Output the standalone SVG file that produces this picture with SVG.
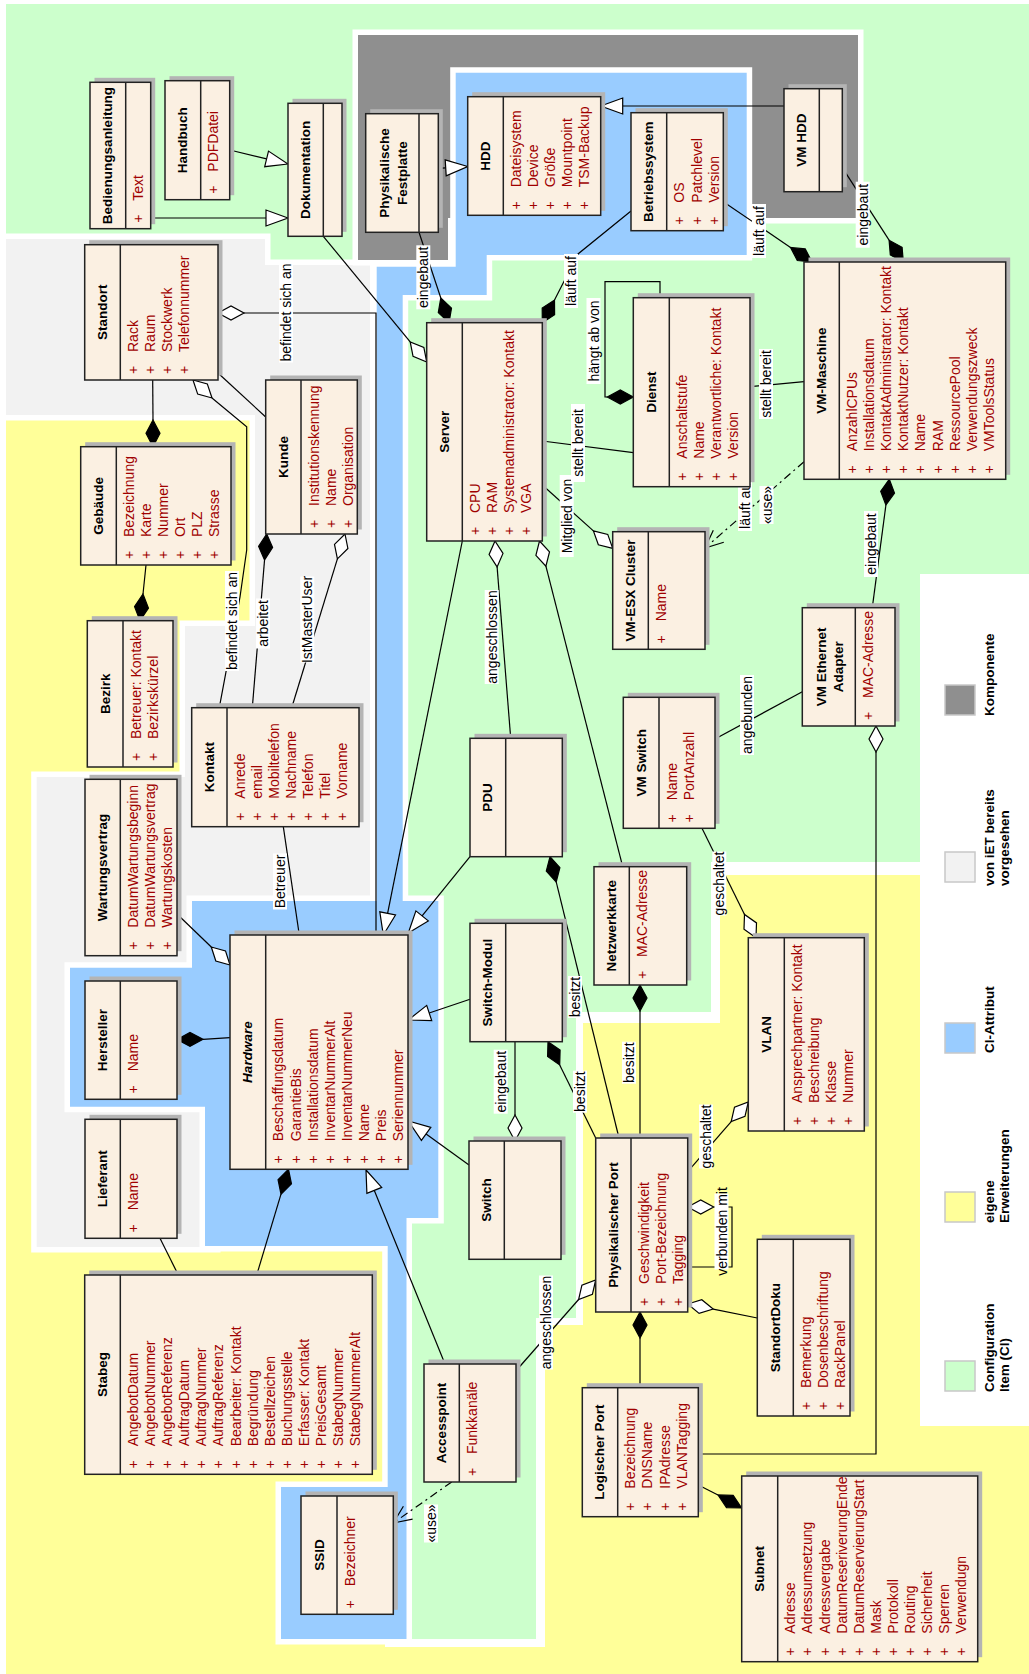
<svg xmlns="http://www.w3.org/2000/svg" width="1029" height="1674" viewBox="0 0 1029 1674">
<defs>
<style>
.ry{fill:#ffff99}
.rg{fill:#ccffcc}
.rl{fill:#f2f2f2;stroke:#fff;stroke-width:11;paint-order:stroke}
.rd{fill:#8f8f8f;stroke:#fff;stroke-width:11;paint-order:stroke}
.rb{fill:#99ccff;stroke:#fff;stroke-width:11;paint-order:stroke}
.sh{fill:#b4b4b4}
.bx{fill:#fbf0e2;stroke:#222;stroke-width:1.5}
.dv{stroke:#222;stroke-width:1.5}
text{font-family:"Liberation Sans",Arial,sans-serif}
.t{font-size:13.5px;font-weight:bold;fill:#000;text-anchor:middle;dominant-baseline:central}
.a{font-size:14px;fill:#a00000}
.p{font-size:14px;fill:#a00000;text-anchor:middle}
.l{fill:none;stroke:#000;stroke-width:1.2}
.u{fill:none;stroke:#000;stroke-width:1.2;stroke-dasharray:8 4 2 4}
.dh{fill:#fff;stroke:#000;stroke-width:1.2}
.df{fill:#000;stroke:#000;stroke-width:1.2}
.tr{fill:#fff;stroke:#000;stroke-width:1.2}
.bg{fill:#fff}
.lb{font-size:14px;fill:#000;text-anchor:middle;dominant-baseline:central}
.lg{font-size:13.5px;font-weight:bold;fill:#000;dominant-baseline:central}
.sq{stroke:#c8c8c8;stroke-width:1.5}
</style>
</defs>
<g id="regions">
<rect x="0" y="0" width="1029" height="1674" fill="#fff"/>
<polygon class="ry" points="6,300 385,300 385,1647 545,1647 545,1325 583,1325 583,1023 720,1023 720,875 1029,875 1029,1674 6,1674"/>
<polygon class="rg" points="6,4 1029,4 1029,862 711,862 711,1012 576,1012 576,1318 536,1318 536,1639 395,1639 395,262 6,262"/>
<polygon class="rl" points="6,239 265,239 265,265 370,265 370,1000 215,1000 215,1247 36.7,1247 36.7,777 185,777 185,626 255,626 255,415 6,415"/>
<polygon class="rd" points="358,35 858,35 858,218 448,218 448,260 358,260"/>
<polygon class="rb" points="455.7,72.7 746.7,72.7 746.7,255 486.7,255 486.7,295 402.7,295 402.7,901 438.3,901 438.3,1218 406.5,1218 406.5,1639 281,1639 281,1487 387.7,1487 387.7,1246 205,1246 205,1106.7 70,1106.7 70,967.7 192,967.7 192,901 376.7,901 376.7,266.7 455.7,266.7"/>
</g>
<g id="legend">
<rect x="920" y="574" width="109" height="852" fill="#fff"/>
<rect class="sq" x="945" y="685" width="30" height="30" fill="#8f8f8f"/>
<text class="lg" transform="translate(989,716) rotate(-90)">Komponente</text>
<rect class="sq" x="945" y="852" width="30" height="30" fill="#f2f2f2"/>
<text class="lg" transform="translate(989,886) rotate(-90)">von iET bereits</text>
<text class="lg" transform="translate(1004,886) rotate(-90)">vorgesehen</text>
<rect class="sq" x="945" y="1023" width="30" height="30" fill="#99ccff"/>
<text class="lg" transform="translate(989,1053) rotate(-90)">CI-Attribut</text>
<rect class="sq" x="945" y="1192" width="30" height="30" fill="#ffff99"/>
<text class="lg" transform="translate(989,1223) rotate(-90)">eigene</text>
<text class="lg" transform="translate(1004,1223) rotate(-90)">Erweiterungen</text>
<rect class="sq" x="945" y="1361" width="30" height="30" fill="#ccffcc"/>
<text class="lg" transform="translate(989,1392) rotate(-90)">Configuration</text>
<text class="lg" transform="translate(1004,1392) rotate(-90)">Item (CI)</text>
</g>
<g id="connectors">
<path class="l" d="M150.7,218 L266,218"/>
<path class="l" d="M229.7,150 L266.6,158.9"/>
<path class="l" d="M323.3,236.3 L410.2,341.9"/>
<path class="l" d="M244,313 L376,313 L376,935"/>
<path class="l" d="M212,398 L246.7,426.7 L246.7,550 L240,597 L219.3,707.7"/>
<path class="l" d="M218,373 L265.7,417"/>
<path class="l" d="M152.7,380 L153,420"/>
<path class="l" d="M146,565 L143,594"/>
<path class="l" d="M264.55,559.9 L252.3,707.7"/>
<path class="l" d="M337.4,558.9 L291.7,707.7"/>
<path class="l" d="M283.3,826.7 L299.3,935"/>
<path class="l" d="M177,914 L211.3,947"/>
<path class="l" d="M203,1039.3 L230,1037.7"/>
<path class="l" d="M160,1238.3 L178.3,1275"/>
<path class="l" d="M281,1194.2 L256.7,1275"/>
<path class="l" d="M462.3,541 L387.6,913.4"/>
<path class="l" d="M497.1,566.9 L510.7,738.3"/>
<path class="l" d="M542.3,485 L593.4,530.9"/>
<path class="l" d="M545.9,566.2 L622.7,866.7"/>
<path class="l" d="M470,856.7 L422.1,915.9"/>
<path class="l" d="M470,999.3 L429.2,1013"/>
<path class="l" d="M469,1165 L426.1,1133.9"/>
<path class="l" d="M445,1364 L374.3,1190.4"/>
<path class="l" d="M515,1041.7 L515,1115"/>
<path class="l" d="M556.2,881.9 L619,1138"/>
<path class="l" d="M559.7,1064.9 L595.7,1138"/>
<path class="l" d="M640,1011 L640,1138"/>
<path class="l" d="M640,1338 L640,1387.7"/>
<path class="l" d="M516.7,1370 L578.6,1299.5"/>
<path class="l" d="M713.7,1207 L732,1207 L732,1267 L687.7,1267"/>
<path class="l" d="M687.7,1171.7 L731.2,1121.6"/>
<path class="l" d="M702,828.3 L744.5,914.4"/>
<path class="l" d="M713.2,1309.1 L757.3,1318"/>
<path class="l" d="M698.3,1454 L876,1454 L876,752"/>
<path class="l" d="M698.3,1485 L718,1495"/>
<path class="l" d="M715,739 L802.3,691.7"/>
<path class="l" d="M872.3,607.7 L885.9,505.1"/>
<path class="u" d="M804,461.7 L705,548"/>
<path class="l" d="M723.8,542.2 L705,548 L713.3,530.2"/>
<path class="l" d="M750,386.7 L804,381.7"/>
<path class="l" d="M723.3,201.7 L790.5,247.4"/>
<path class="l" d="M842.3,167.7 L889.1,240.2"/>
<path class="l" d="M784,106 L622.7,106"/>
<path class="l" d="M631,211 L578,254 L554.5,300"/>
<path class="l" d="M419,232.3 L440.8,298"/>
<path class="l" d="M438.3,168.3 L445.7,167.8"/>
<path class="l" d="M660,297.7 L660,281.7 L605,281.7 L605,397 L607.3,397"/>
<path class="l" d="M542.3,441 L633.3,452.7"/>
<path class="u" d="M451.7,1482 L393.3,1523"/>
<path class="l" d="M412.6,1519.2 L393.3,1523 L403.4,1506.2"/>
<polygon class="tr" points="288,218 266,210 266,226"/>
<polygon class="tr" points="288,164 264.7,166.7 268.5,151.1"/>
<polygon class="tr" points="383.3,935 395.5,915 379.8,911.8"/>
<polygon class="tr" points="408.3,933 428.3,920.9 415.9,910.9"/>
<polygon class="tr" points="408.3,1020 431.7,1020.6 426.7,1005.4"/>
<polygon class="tr" points="408.3,1121 421.4,1140.4 430.8,1127.4"/>
<polygon class="tr" points="366,1170 366.9,1193.4 381.7,1187.4"/>
<polygon class="tr" points="600.7,106 622.7,98 622.7,114"/>
<polygon class="tr" points="467.7,166.5 445.2,159.8 446.2,175.8"/>
<polygon class="dh" points="426.7,362 413.05,356.4 410.2,341.9 423.85,347.5"/>
<polygon class="dh" points="218,313 231,306 244,313 231,320"/>
<polygon class="dh" points="193,380 207.3,383.9 212,398 197.7,394.1"/>
<polygon class="df" points="153,446.7 160,433.3 153,420 146,433.3"/>
<polygon class="df" points="140,620.7 148.45,608.1 143,594 134.55,606.6"/>
<polygon class="df" points="266.7,534 272.6,547.5 264.55,559.9 258.6,546.4"/>
<polygon class="dh" points="345,534 347.9,548.5 337.4,558.9 334.5,544.4"/>
<polygon class="dh" points="230,965 215.8,961 211.3,947 225.5,950.9"/>
<polygon class="df" points="177,1039.5 190,1032.4 203,1039.3 190,1046.4"/>
<polygon class="df" points="288.5,1169.3 291.45,1183.8 281,1194.2 278.05,1179.7"/>
<polygon class="dh" points="495,541 503,553.4 497.1,566.9 489.1,554.5"/>
<polygon class="dh" points="612.7,548.3 598.35,544.8 593.4,530.9 607.75,534.4"/>
<polygon class="dh" points="539.5,541 549.5,551.9 545.9,566.2 535.9,555.3"/>
<polygon class="dh" points="515,1141 522,1128 515,1115 508,1128"/>
<polygon class="df" points="550,856.7 559.9,867.6 556.2,881.9 546.3,871"/>
<polygon class="df" points="548,1041.7 560.1,1050.1 559.7,1064.9 547.6,1056.5"/>
<polygon class="df" points="640,985 647,998 640,1011 633,998"/>
<polygon class="df" points="640,1312 647,1325 640,1338 633,1325"/>
<polygon class="dh" points="595.7,1280 592.4,1294.4 578.6,1299.5 581.9,1285.1"/>
<polygon class="dh" points="687.7,1207 700.7,1200 713.7,1207 700.7,1214"/>
<polygon class="dh" points="748.3,1102 745,1116.4 731.2,1121.6 734.5,1107.2"/>
<polygon class="dh" points="756,937.7 744,929.2 744.5,914.4 756.5,922.9"/>
<polygon class="dh" points="687.7,1304 701.8,1299.7 713.2,1309.1 699.1,1313.4"/>
<polygon class="dh" points="876,726 883,739 876,752 869,739"/>
<polygon class="df" points="741.7,1508 726.5,1507.6 718,1495 733.2,1495.4"/>
<polygon class="df" points="889.3,479.3 894.5,493.1 885.9,505.1 880.7,491.3"/>
<polygon class="df" points="812,262 797.3,260.5 790.5,247.4 805.2,248.9"/>
<polygon class="df" points="903.3,262 890.3,254.9 889.1,240.2 902.1,247.3"/>
<polygon class="df" points="542.3,322.7 554.6,314.7 554.5,300 542.2,308"/>
<polygon class="df" points="449,322.7 438.3,312.6 440.8,298 451.5,308.1"/>
<polygon class="df" points="633.3,397 620.3,390 607.3,397 620.3,404"/>
<rect class="bg" x="279" y="262.5" width="14" height="100"/>
<text class="lb" transform="translate(286,312.5) rotate(-90)">befindet sich an</text>
<rect class="bg" x="225" y="571" width="14" height="100"/>
<text class="lb" transform="translate(232,621) rotate(-90)">befindet sich an</text>
<rect class="bg" x="256" y="598.5" width="14" height="50"/>
<text class="lb" transform="translate(263,623.5) rotate(-90)">arbeitet</text>
<rect class="bg" x="300.3" y="576.5" width="14" height="86"/>
<text class="lb" transform="translate(307.3,619.5) rotate(-90)">IstMasterUser</text>
<rect class="bg" x="273" y="853.5" width="14" height="56"/>
<text class="lb" transform="translate(280,881.5) rotate(-90)">Betreuer</text>
<rect class="bg" x="484.7" y="590" width="14" height="94"/>
<text class="lb" transform="translate(491.7,637) rotate(-90)">angeschlossen</text>
<rect class="bg" x="559.7" y="475" width="14" height="82"/>
<text class="lb" transform="translate(566.7,516) rotate(-90)">Mitglied von</text>
<rect class="bg" x="571" y="404" width="14" height="78"/>
<text class="lb" transform="translate(578,443) rotate(-90)">stellt bereit</text>
<rect class="bg" x="586.5" y="298" width="14" height="86"/>
<text class="lb" transform="translate(593.5,341) rotate(-90)">hängt ab von</text>
<rect class="bg" x="564" y="254" width="14" height="54"/>
<text class="lb" transform="translate(571,281) rotate(-90)">läuft auf</text>
<rect class="bg" x="416.3" y="245.3" width="14" height="64"/>
<text class="lb" transform="translate(423.3,277.3) rotate(-90)">eingebaut</text>
<rect class="bg" x="752" y="204" width="14" height="54"/>
<text class="lb" transform="translate(759,231) rotate(-90)">läuft auf</text>
<rect class="bg" x="855.7" y="181.7" width="14" height="66"/>
<text class="lb" transform="translate(862.7,214.7) rotate(-90)">eingebaut</text>
<rect class="bg" x="759" y="349" width="14" height="70"/>
<text class="lb" transform="translate(766,384) rotate(-90)">stellt bereit</text>
<rect class="bg" x="738" y="477" width="14" height="54"/>
<text class="lb" transform="translate(745,504) rotate(-90)">läuft auf</text>
<rect class="bg" x="759.5" y="486" width="14" height="38"/>
<text class="lb" transform="translate(766.5,505) rotate(-90)">«use»</text>
<rect class="bg" x="864" y="511" width="14" height="66"/>
<text class="lb" transform="translate(871,544) rotate(-90)">eingebaut</text>
<rect class="bg" x="740" y="675" width="14" height="80"/>
<text class="lb" transform="translate(747,715) rotate(-90)">angebunden</text>
<rect class="bg" x="712.3" y="851.5" width="14" height="64"/>
<text class="lb" transform="translate(719.3,883.5) rotate(-90)">geschaltet</text>
<rect class="bg" x="568" y="976" width="14" height="42"/>
<text class="lb" transform="translate(575,997) rotate(-90)">besitzt</text>
<rect class="bg" x="573" y="1070.7" width="14" height="42"/>
<text class="lb" transform="translate(580,1091.7) rotate(-90)">besitzt</text>
<rect class="bg" x="622" y="1041.7" width="14" height="42"/>
<text class="lb" transform="translate(629,1062.7) rotate(-90)">besitzt</text>
<rect class="bg" x="493.7" y="1049.7" width="14" height="64"/>
<text class="lb" transform="translate(500.7,1081.7) rotate(-90)">eingebaut</text>
<rect class="bg" x="699" y="1104.5" width="14" height="64"/>
<text class="lb" transform="translate(706,1136.5) rotate(-90)">geschaltet</text>
<rect class="bg" x="714.5" y="1193.5" width="14" height="76"/>
<text class="lb" transform="translate(721.5,1231.5) rotate(-90)">verbunden mit</text>
<rect class="bg" x="539" y="1275.5" width="14" height="94"/>
<text class="lb" transform="translate(546,1322.5) rotate(-90)">angeschlossen</text>
<rect class="bg" x="424" y="1504.5" width="14" height="38"/>
<text class="lb" transform="translate(431,1523.5) rotate(-90)">«use»</text>
</g>
<g id="nodes">
<g id="n-bedienungsanleitung" transform="translate(90,228.7) rotate(-90)">
<rect class="sh" x="4.5" y="4.5" width="146.4" height="60.7"/><rect class="bx" width="146.4" height="60.7"/><line class="dv" x1="0" y1="35.7" x2="146.4" y2="35.7"/>
<text class="t" x="73.2" y="17.9">Bedienungsanleitung</text>
<text class="p" x="10" y="53.4">+</text><text class="a" x="28" y="53.4">Text</text>
</g>
<g id="n-handbuch" transform="translate(165,199.7) rotate(-90)">
<rect class="sh" x="4.5" y="4.5" width="119" height="64.7"/><rect class="bx" width="119" height="64.7"/><line class="dv" x1="0" y1="35.7" x2="119" y2="35.7"/>
<text class="t" x="59.5" y="17.9">Handbuch</text>
<text class="p" x="10" y="53.4">+</text><text class="a" x="28" y="53.4">PDFDatei</text>
</g>
<g id="n-dokumentation" transform="translate(288,236.3) rotate(-90)">
<rect class="sh" x="4.5" y="4.5" width="133" height="54"/><rect class="bx" width="133" height="54"/><line class="dv" x1="0" y1="35.3" x2="133" y2="35.3"/>
<text class="t" x="66.5" y="17.7">Dokumentation</text>
</g>
<g id="n-standort" transform="translate(84.7,380) rotate(-90)">
<rect class="sh" x="4.5" y="4.5" width="135.3" height="133.3"/><rect class="bx" width="135.3" height="133.3"/><line class="dv" x1="0" y1="35.6" x2="135.3" y2="35.6"/>
<text class="t" x="67.7" y="17.8">Standort</text>
<text class="p" x="10" y="53.3">+</text><text class="a" x="28" y="53.3">Rack</text>
<text class="p" x="10" y="70.4">+</text><text class="a" x="28" y="70.4">Raum</text>
<text class="p" x="10" y="87.5">+</text><text class="a" x="28" y="87.5">Stockwerk</text>
<text class="p" x="10" y="104.6">+</text><text class="a" x="28" y="104.6">Telefonnummer</text>
</g>
<g id="n-gebaeude" transform="translate(80.7,565) rotate(-90)">
<rect class="sh" x="4.5" y="4.5" width="118.3" height="150.3"/><rect class="bx" width="118.3" height="150.3"/><line class="dv" x1="0" y1="35.6" x2="118.3" y2="35.6"/>
<text class="t" x="59.2" y="17.8">Gebäude</text>
<text class="p" x="10" y="53.3">+</text><text class="a" x="28" y="53.3">Bezeichnung</text>
<text class="p" x="10" y="70.4">+</text><text class="a" x="28" y="70.4">Karte</text>
<text class="p" x="10" y="87.5">+</text><text class="a" x="28" y="87.5">Nummer</text>
<text class="p" x="10" y="104.6">+</text><text class="a" x="28" y="104.6">Ort</text>
<text class="p" x="10" y="121.7">+</text><text class="a" x="28" y="121.7">PLZ</text>
<text class="p" x="10" y="138.8">+</text><text class="a" x="28" y="138.8">Strasse</text>
</g>
<g id="n-bezirk" transform="translate(87.3,767) rotate(-90)">
<rect class="sh" x="4.5" y="4.5" width="146.3" height="85.7"/><rect class="bx" width="146.3" height="85.7"/><line class="dv" x1="0" y1="35.7" x2="146.3" y2="35.7"/>
<text class="t" x="73.2" y="17.9">Bezirk</text>
<text class="p" x="10" y="53.4">+</text><text class="a" x="28" y="53.4">Betreuer: Kontakt</text>
<text class="p" x="10" y="70.5">+</text><text class="a" x="28" y="70.5">Bezirkskürzel</text>
</g>
<g id="n-kunde" transform="translate(265.7,534) rotate(-90)">
<rect class="sh" x="4.5" y="4.5" width="154" height="91.6"/><rect class="bx" width="154" height="91.6"/><line class="dv" x1="0" y1="35.3" x2="154" y2="35.3"/>
<text class="t" x="77" y="17.7">Kunde</text>
<text class="p" x="10" y="53">+</text><text class="a" x="28" y="53">Institutionskennung</text>
<text class="p" x="10" y="70.1">+</text><text class="a" x="28" y="70.1">Name</text>
<text class="p" x="10" y="87.2">+</text><text class="a" x="28" y="87.2">Organisation</text>
</g>
<g id="n-kontakt" transform="translate(191.7,826.7) rotate(-90)">
<rect class="sh" x="4.5" y="4.5" width="119" height="167.3"/><rect class="bx" width="119" height="167.3"/><line class="dv" x1="0" y1="35.3" x2="119" y2="35.3"/>
<text class="t" x="59.5" y="17.7">Kontakt</text>
<text class="p" x="10" y="53">+</text><text class="a" x="28" y="53">Anrede</text>
<text class="p" x="10" y="70.1">+</text><text class="a" x="28" y="70.1">email</text>
<text class="p" x="10" y="87.2">+</text><text class="a" x="28" y="87.2">Mobiltelefon</text>
<text class="p" x="10" y="104.3">+</text><text class="a" x="28" y="104.3">Nachname</text>
<text class="p" x="10" y="121.4">+</text><text class="a" x="28" y="121.4">Telefon</text>
<text class="p" x="10" y="138.5">+</text><text class="a" x="28" y="138.5">Titel</text>
<text class="p" x="10" y="155.6">+</text><text class="a" x="28" y="155.6">Vorname</text>
</g>
<g id="n-wartungsvertrag" transform="translate(85,955.7) rotate(-90)">
<rect class="sh" x="4.5" y="4.5" width="176.4" height="92"/><rect class="bx" width="176.4" height="92"/><line class="dv" x1="0" y1="35.3" x2="176.4" y2="35.3"/>
<text class="t" x="88.2" y="17.7">Wartungsvertrag</text>
<text class="p" x="10" y="53">+</text><text class="a" x="28" y="53">DatumWartungsbeginn</text>
<text class="p" x="10" y="70.1">+</text><text class="a" x="28" y="70.1">DatumWartungsvertrag</text>
<text class="p" x="10" y="87.2">+</text><text class="a" x="28" y="87.2">Wartungskosten</text>
</g>
<g id="n-hersteller" transform="translate(85,1099.3) rotate(-90)">
<rect class="sh" x="4.5" y="4.5" width="118.3" height="92"/><rect class="bx" width="118.3" height="92"/><line class="dv" x1="0" y1="35.3" x2="118.3" y2="35.3"/>
<text class="t" x="59.2" y="17.7">Hersteller</text>
<text class="p" x="10" y="53">+</text><text class="a" x="28" y="53">Name</text>
</g>
<g id="n-lieferant" transform="translate(85,1238.3) rotate(-90)">
<rect class="sh" x="4.5" y="4.5" width="119" height="92"/><rect class="bx" width="119" height="92"/><line class="dv" x1="0" y1="35.3" x2="119" y2="35.3"/>
<text class="t" x="59.5" y="17.7">Lieferant</text>
<text class="p" x="10" y="53">+</text><text class="a" x="28" y="53">Name</text>
</g>
<g id="n-hardware" transform="translate(230,1169.3) rotate(-90)">
<rect class="sh" x="4.5" y="4.5" width="234.3" height="178"/><rect class="bx" width="234.3" height="178"/><line class="dv" x1="0" y1="35.7" x2="234.3" y2="35.7"/>
<text class="t" x="117.2" y="17.9" font-style="italic">Hardware</text>
<text class="p" x="10" y="53.4">+</text><text class="a" x="28" y="53.4">Beschaffungsdatum</text>
<text class="p" x="10" y="70.5">+</text><text class="a" x="28" y="70.5">GarantieBis</text>
<text class="p" x="10" y="87.6">+</text><text class="a" x="28" y="87.6">Installationsdatum</text>
<text class="p" x="10" y="104.7">+</text><text class="a" x="28" y="104.7">InventarNummerAlt</text>
<text class="p" x="10" y="121.8">+</text><text class="a" x="28" y="121.8">InventarNummerNeu</text>
<text class="p" x="10" y="138.9">+</text><text class="a" x="28" y="138.9">Name</text>
<text class="p" x="10" y="156">+</text><text class="a" x="28" y="156">Preis</text>
<text class="p" x="10" y="173.1">+</text><text class="a" x="28" y="173.1">Seriennummer</text>
</g>
<g id="n-stabeg" transform="translate(84.7,1474.3) rotate(-90)">
<rect class="sh" x="4.5" y="4.5" width="199.3" height="287.6"/><rect class="bx" width="199.3" height="287.6"/><line class="dv" x1="0" y1="35.6" x2="199.3" y2="35.6"/>
<text class="t" x="99.7" y="17.8">Stabeg</text>
<text class="p" x="10" y="53.3">+</text><text class="a" x="28" y="53.3">AngebotDatum</text>
<text class="p" x="10" y="70.4">+</text><text class="a" x="28" y="70.4">AngebotNummer</text>
<text class="p" x="10" y="87.5">+</text><text class="a" x="28" y="87.5">AngebotReferenz</text>
<text class="p" x="10" y="104.6">+</text><text class="a" x="28" y="104.6">AuftragDatum</text>
<text class="p" x="10" y="121.7">+</text><text class="a" x="28" y="121.7">AuftragNummer</text>
<text class="p" x="10" y="138.8">+</text><text class="a" x="28" y="138.8">AuftragReferenz</text>
<text class="p" x="10" y="155.9">+</text><text class="a" x="28" y="155.9">Bearbeiter: Kontakt</text>
<text class="p" x="10" y="173">+</text><text class="a" x="28" y="173">Begründung</text>
<text class="p" x="10" y="190.1">+</text><text class="a" x="28" y="190.1">Bestellzeichen</text>
<text class="p" x="10" y="207.2">+</text><text class="a" x="28" y="207.2">Buchungsstelle</text>
<text class="p" x="10" y="224.3">+</text><text class="a" x="28" y="224.3">Erfasser: Kontakt</text>
<text class="p" x="10" y="241.4">+</text><text class="a" x="28" y="241.4">PreisGesamt</text>
<text class="p" x="10" y="258.5">+</text><text class="a" x="28" y="258.5">StabegNummer</text>
<text class="p" x="10" y="275.6">+</text><text class="a" x="28" y="275.6">StabegNummerAlt</text>
</g>
<g id="n-ssid" transform="translate(301,1614.3) rotate(-90)">
<rect class="sh" x="4.5" y="4.5" width="118.3" height="92.3"/><rect class="bx" width="118.3" height="92.3"/><line class="dv" x1="0" y1="36" x2="118.3" y2="36"/>
<text class="t" x="59.2" y="18">SSID</text>
<text class="p" x="10" y="53.7">+</text><text class="a" x="28" y="53.7">Bezeichner</text>
</g>
<g id="n-accesspoint" transform="translate(424,1482) rotate(-90)">
<rect class="sh" x="4.5" y="4.5" width="118" height="92"/><rect class="bx" width="118" height="92"/><line class="dv" x1="0" y1="35.3" x2="118" y2="35.3"/>
<text class="t" x="59" y="17.7">Accesspoint</text>
<text class="p" x="10" y="53">+</text><text class="a" x="28" y="53">Funkkanäle</text>
</g>
<g id="n-physport" transform="translate(595.7,1312) rotate(-90)">
<rect class="sh" x="4.5" y="4.5" width="174" height="92"/><rect class="bx" width="174" height="92"/><line class="dv" x1="0" y1="35.3" x2="174" y2="35.3"/>
<text class="t" x="87" y="17.7">Physikalischer Port</text>
<text class="p" x="10" y="53">+</text><text class="a" x="28" y="53">Geschwindigkeit</text>
<text class="p" x="10" y="70.1">+</text><text class="a" x="28" y="70.1">Port-Bezeichnung</text>
<text class="p" x="10" y="87.2">+</text><text class="a" x="28" y="87.2">Tagging</text>
</g>
<g id="n-standortdoku" transform="translate(757.3,1416) rotate(-90)">
<rect class="sh" x="4.5" y="4.5" width="176.7" height="92.7"/><rect class="bx" width="176.7" height="92.7"/><line class="dv" x1="0" y1="36" x2="176.7" y2="36"/>
<text class="t" x="88.3" y="18">StandortDoku</text>
<text class="p" x="10" y="53.7">+</text><text class="a" x="28" y="53.7">Bemerkung</text>
<text class="p" x="10" y="70.8">+</text><text class="a" x="28" y="70.8">Dosenbeschriftung</text>
<text class="p" x="10" y="87.9">+</text><text class="a" x="28" y="87.9">RackPanel</text>
</g>
<g id="n-logport" transform="translate(582.3,1516.7) rotate(-90)">
<rect class="sh" x="4.5" y="4.5" width="129" height="116"/><rect class="bx" width="129" height="116"/><line class="dv" x1="0" y1="35.4" x2="129" y2="35.4"/>
<text class="t" x="64.5" y="17.7">Logischer Port</text>
<text class="p" x="10" y="53.1">+</text><text class="a" x="28" y="53.1">Bezeichnung</text>
<text class="p" x="10" y="70.2">+</text><text class="a" x="28" y="70.2">DNSName</text>
<text class="p" x="10" y="87.3">+</text><text class="a" x="28" y="87.3">IPAdresse</text>
<text class="p" x="10" y="104.4">+</text><text class="a" x="28" y="104.4">VLANTagging</text>
</g>
<g id="n-subnet" transform="translate(741.7,1661.7) rotate(-90)">
<rect class="sh" x="4.5" y="4.5" width="185.7" height="236"/><rect class="bx" width="185.7" height="236"/><line class="dv" x1="0" y1="36" x2="185.7" y2="36"/>
<text class="t" x="92.8" y="18">Subnet</text>
<text class="p" x="10" y="53.7">+</text><text class="a" x="28" y="53.7">Adresse</text>
<text class="p" x="10" y="70.8">+</text><text class="a" x="28" y="70.8">Adressumsetzung</text>
<text class="p" x="10" y="87.9">+</text><text class="a" x="28" y="87.9">Adressvergabe</text>
<text class="p" x="10" y="105">+</text><text class="a" x="28" y="105">DatumReseriverungEnde</text>
<text class="p" x="10" y="122.1">+</text><text class="a" x="28" y="122.1">DatumReservierungStart</text>
<text class="p" x="10" y="139.2">+</text><text class="a" x="28" y="139.2">Mask</text>
<text class="p" x="10" y="156.3">+</text><text class="a" x="28" y="156.3">Protokoll</text>
<text class="p" x="10" y="173.4">+</text><text class="a" x="28" y="173.4">Routing</text>
<text class="p" x="10" y="190.5">+</text><text class="a" x="28" y="190.5">Sicherheit</text>
<text class="p" x="10" y="207.6">+</text><text class="a" x="28" y="207.6">Sperren</text>
<text class="p" x="10" y="224.7">+</text><text class="a" x="28" y="224.7">Verwendugn</text>
</g>
<g id="n-vlan" transform="translate(748.3,1131) rotate(-90)">
<rect class="sh" x="4.5" y="4.5" width="193.3" height="116"/><rect class="bx" width="193.3" height="116"/><line class="dv" x1="0" y1="36" x2="193.3" y2="36"/>
<text class="t" x="96.7" y="18">VLAN</text>
<text class="p" x="10" y="53.7">+</text><text class="a" x="28" y="53.7">Ansprechpartner: Kontakt</text>
<text class="p" x="10" y="70.8">+</text><text class="a" x="28" y="70.8">Beschreibung</text>
<text class="p" x="10" y="87.9">+</text><text class="a" x="28" y="87.9">Klasse</text>
<text class="p" x="10" y="105">+</text><text class="a" x="28" y="105">Nummer</text>
</g>
<g id="n-vmswitch" transform="translate(623.3,828.3) rotate(-90)">
<rect class="sh" x="4.5" y="4.5" width="131" height="91.7"/><rect class="bx" width="131" height="91.7"/><line class="dv" x1="0" y1="35.7" x2="131" y2="35.7"/>
<text class="t" x="65.5" y="17.9">VM Switch</text>
<text class="p" x="10" y="53.4">+</text><text class="a" x="28" y="53.4">Name</text>
<text class="p" x="10" y="70.5">+</text><text class="a" x="28" y="70.5">PortAnzahl</text>
</g>
<g id="n-vmethernet" transform="translate(802.3,726) rotate(-90)">
<rect class="sh" x="4.5" y="4.5" width="118.3" height="92.7"/><rect class="bx" width="118.3" height="92.7"/><line class="dv" x1="0" y1="53" x2="118.3" y2="53"/>
<text class="t" x="59.2" y="19.2">VM Ethernet</text>
<text class="t" x="59.2" y="36.6">Adapter</text>
<text class="p" x="10" y="71">+</text><text class="a" x="28" y="71">MAC-Adresse</text>
</g>
<g id="n-vmmaschine" transform="translate(804,479.3) rotate(-90)">
<rect class="sh" x="4.5" y="4.5" width="217.3" height="201.7"/><rect class="bx" width="217.3" height="201.7"/><line class="dv" x1="0" y1="35.3" x2="217.3" y2="35.3"/>
<text class="t" x="108.7" y="17.7">VM-Maschine</text>
<text class="p" x="10" y="53">+</text><text class="a" x="28" y="53">AnzahlCPUs</text>
<text class="p" x="10" y="70.1">+</text><text class="a" x="28" y="70.1">Installationsdatum</text>
<text class="p" x="10" y="87.2">+</text><text class="a" x="28" y="87.2">KontaktAdministrator: Kontakt</text>
<text class="p" x="10" y="104.3">+</text><text class="a" x="28" y="104.3">KontaktNutzer: Kontakt</text>
<text class="p" x="10" y="121.4">+</text><text class="a" x="28" y="121.4">Name</text>
<text class="p" x="10" y="138.5">+</text><text class="a" x="28" y="138.5">RAM</text>
<text class="p" x="10" y="155.6">+</text><text class="a" x="28" y="155.6">RessourcePool</text>
<text class="p" x="10" y="172.7">+</text><text class="a" x="28" y="172.7">Verwendungszweck</text>
<text class="p" x="10" y="189.8">+</text><text class="a" x="28" y="189.8">VMToolsStatus</text>
</g>
<g id="n-dienst" transform="translate(633.3,486.7) rotate(-90)">
<rect class="sh" x="4.5" y="4.5" width="189" height="116.7"/><rect class="bx" width="189" height="116.7"/><line class="dv" x1="0" y1="36" x2="189" y2="36"/>
<text class="t" x="94.5" y="18">Dienst</text>
<text class="p" x="10" y="53.7">+</text><text class="a" x="28" y="53.7">Anschaltstufe</text>
<text class="p" x="10" y="70.8">+</text><text class="a" x="28" y="70.8">Name</text>
<text class="p" x="10" y="87.9">+</text><text class="a" x="28" y="87.9">Verantwortliche: Kontakt</text>
<text class="p" x="10" y="105">+</text><text class="a" x="28" y="105">Version</text>
</g>
<g id="n-betriebssystem" transform="translate(631,230.7) rotate(-90)">
<rect class="sh" x="4.5" y="4.5" width="118" height="92.3"/><rect class="bx" width="118" height="92.3"/><line class="dv" x1="0" y1="35.7" x2="118" y2="35.7"/>
<text class="t" x="59" y="17.9">Betriebssystem</text>
<text class="p" x="10" y="53.4">+</text><text class="a" x="28" y="53.4">OS</text>
<text class="p" x="10" y="70.5">+</text><text class="a" x="28" y="70.5">Patchlevel</text>
<text class="p" x="10" y="87.6">+</text><text class="a" x="28" y="87.6">Version</text>
</g>
<g id="n-hdd" transform="translate(467.7,215.3) rotate(-90)">
<rect class="sh" x="4.5" y="4.5" width="118.6" height="133"/><rect class="bx" width="118.6" height="133"/><line class="dv" x1="0" y1="35.6" x2="118.6" y2="35.6"/>
<text class="t" x="59.3" y="17.8">HDD</text>
<text class="p" x="10" y="53.3">+</text><text class="a" x="28" y="53.3">Dateisystem</text>
<text class="p" x="10" y="70.4">+</text><text class="a" x="28" y="70.4">Device</text>
<text class="p" x="10" y="87.5">+</text><text class="a" x="28" y="87.5">Größe</text>
<text class="p" x="10" y="104.6">+</text><text class="a" x="28" y="104.6">Mountpoint</text>
<text class="p" x="10" y="121.7">+</text><text class="a" x="28" y="121.7">TSM-Backup</text>
</g>
<g id="n-festplatte" transform="translate(365.7,232.3) rotate(-90)">
<rect class="sh" x="4.5" y="4.5" width="118.6" height="72.6"/><rect class="bx" width="118.6" height="72.6"/><line class="dv" x1="0" y1="53.3" x2="118.6" y2="53.3"/>
<text class="t" x="59.3" y="19.3">Physikalische</text>
<text class="t" x="59.3" y="36.8">Festplatte</text>
</g>
<g id="n-vmhdd" transform="translate(784,191.7) rotate(-90)">
<rect class="sh" x="4.5" y="4.5" width="103" height="58.3"/><rect class="bx" width="103" height="58.3"/><line class="dv" x1="0" y1="35.3" x2="103" y2="35.3"/>
<text class="t" x="51.5" y="17.7">VM HDD</text>
</g>
<g id="n-server" transform="translate(426.7,541) rotate(-90)">
<rect class="sh" x="4.5" y="4.5" width="218.3" height="115.6"/><rect class="bx" width="218.3" height="115.6"/><line class="dv" x1="0" y1="35.6" x2="218.3" y2="35.6"/>
<text class="t" x="109.2" y="17.8">Server</text>
<text class="p" x="10" y="53.3">+</text><text class="a" x="28" y="53.3">CPU</text>
<text class="p" x="10" y="70.4">+</text><text class="a" x="28" y="70.4">RAM</text>
<text class="p" x="10" y="87.5">+</text><text class="a" x="28" y="87.5">Systemadministrator: Kontakt</text>
<text class="p" x="10" y="104.6">+</text><text class="a" x="28" y="104.6">VGA</text>
</g>
<g id="n-vmesx" transform="translate(612.7,649.3) rotate(-90)">
<rect class="sh" x="4.5" y="4.5" width="117.6" height="92.3"/><rect class="bx" width="117.6" height="92.3"/><line class="dv" x1="0" y1="35.6" x2="117.6" y2="35.6"/>
<text class="t" x="58.8" y="17.8">VM-ESX Cluster</text>
<text class="p" x="10" y="53.3">+</text><text class="a" x="28" y="53.3">Name</text>
</g>
<g id="n-pdu" transform="translate(470,856.7) rotate(-90)">
<rect class="sh" x="4.5" y="4.5" width="118.4" height="92.3"/><rect class="bx" width="118.4" height="92.3"/><line class="dv" x1="0" y1="35.7" x2="118.4" y2="35.7"/>
<text class="t" x="59.2" y="17.9">PDU</text>
</g>
<g id="n-netzwerkkarte" transform="translate(594,985) rotate(-90)">
<rect class="sh" x="4.5" y="4.5" width="118.3" height="92.7"/><rect class="bx" width="118.3" height="92.7"/><line class="dv" x1="0" y1="35.3" x2="118.3" y2="35.3"/>
<text class="t" x="59.2" y="17.7">Netzwerkkarte</text>
<text class="p" x="10" y="53">+</text><text class="a" x="28" y="53">MAC-Adresse</text>
</g>
<g id="n-switchmodul" transform="translate(470,1041.7) rotate(-90)">
<rect class="sh" x="4.5" y="4.5" width="118.4" height="92.3"/><rect class="bx" width="118.4" height="92.3"/><line class="dv" x1="0" y1="35.7" x2="118.4" y2="35.7"/>
<text class="t" x="59.2" y="17.9">Switch-Modul</text>
</g>
<g id="n-switch" transform="translate(469,1259.3) rotate(-90)">
<rect class="sh" x="4.5" y="4.5" width="118.3" height="92"/><rect class="bx" width="118.3" height="92"/><line class="dv" x1="0" y1="35.3" x2="118.3" y2="35.3"/>
<text class="t" x="59.2" y="17.7">Switch</text>
</g>
</g>
</svg>
